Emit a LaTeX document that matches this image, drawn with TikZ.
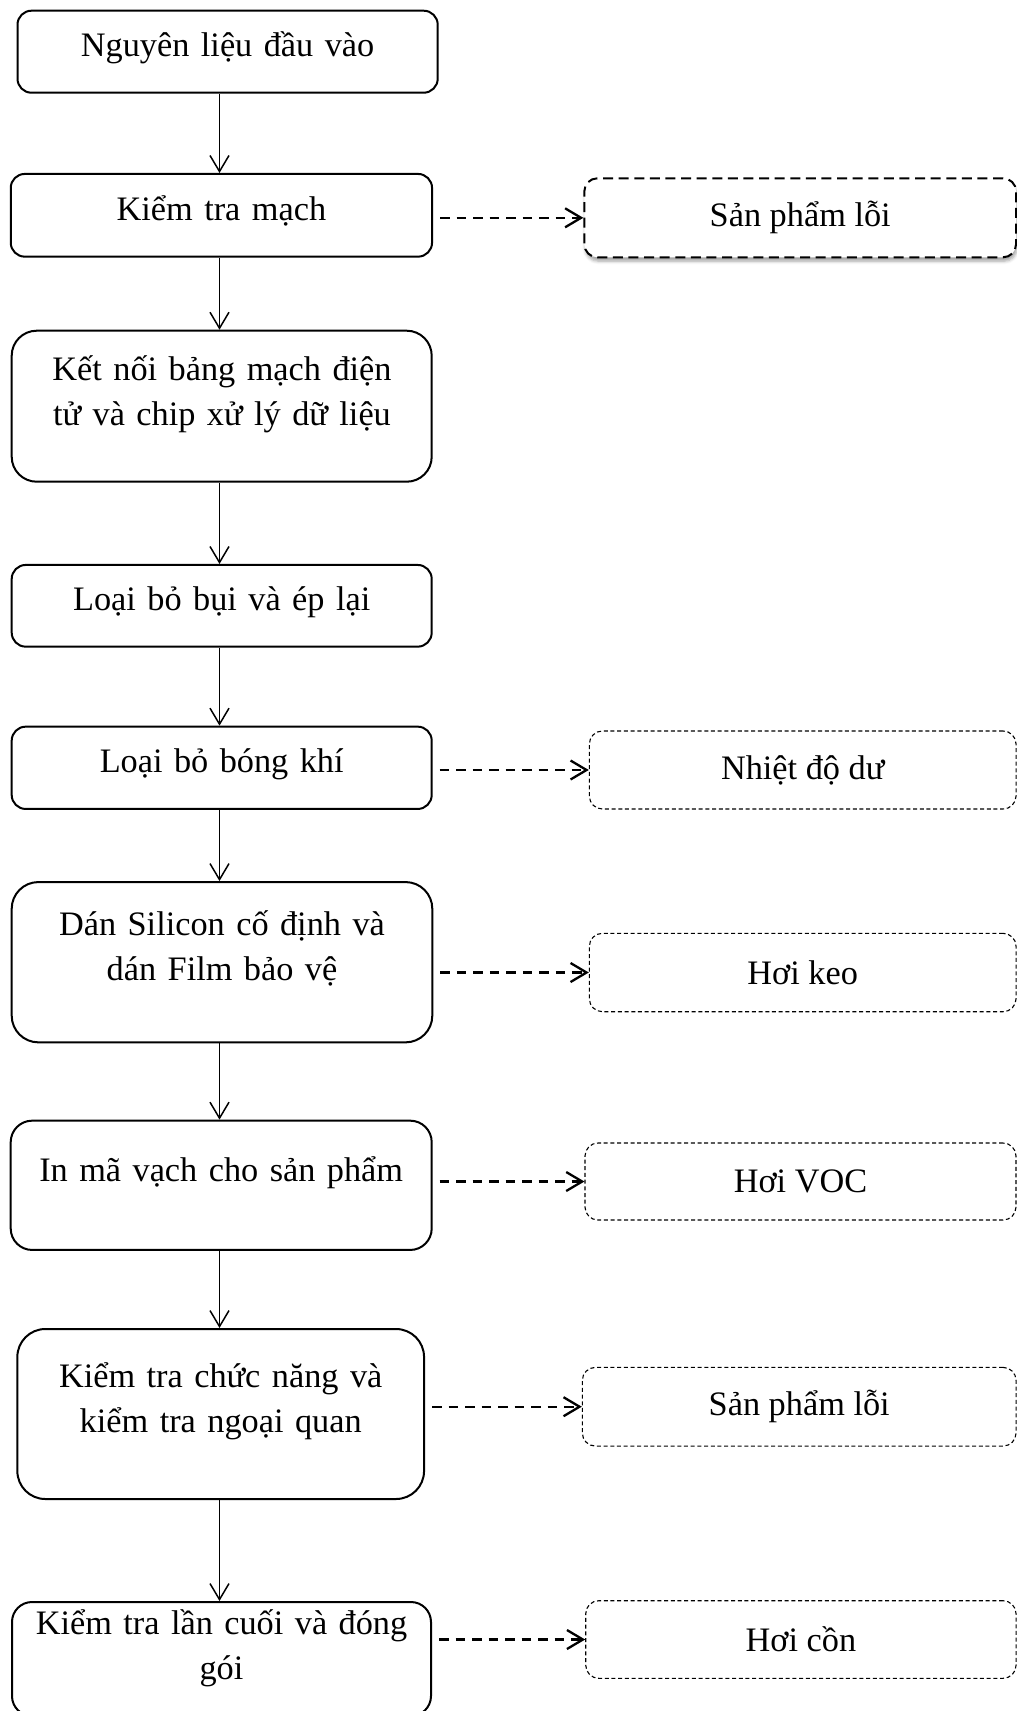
\documentclass[tikz,border=0pt]{standalone}
\usepackage{fontspec}
\setmainfont{Liberation Serif}
\usetikzlibrary{arrows.meta, shadows.blur}

\begin{document}
\begin{tikzpicture}[x=1pt, y=-1pt, font=\fontsize{34.3}{45.5}\selectfont,
    >={Straight Barb[length=16pt, width=19pt]},
    stage/.style={draw, line width=2pt, rounded corners=#1, inner sep=0pt, minimum width=420pt},
    stage/.default=14pt,
    txt/.style={text width=420pt, align=center, inner sep=0pt, anchor=base},
    waste/.style={draw, line width=1.1pt, dash pattern=on 4pt off 2.7pt, rounded corners=13pt,
      inner sep=0pt, minimum width=431pt, minimum height=78pt},
    shaded/.style={line width=2pt, dash pattern=on 10pt off 5.6pt, fill=white,
      blur shadow={shadow xshift=1pt, shadow yshift=-4pt, shadow blur radius=3pt, shadow opacity=35}},
    down/.style={->, line width=1.5pt},
    side/.style={->, line width=2.3pt, dash pattern=on 9.5pt off 7pt}]
  \useasboundingbox (0,0) rectangle (1017,1711);
  \clip (0,0) rectangle (1017,1711);
  \coordinate (spine) at (219.5,0);
  % process steps
  \node[stage, minimum width=420.2pt, minimum height=82pt] (nl) at (227.6,51.7) {};
  \node[txt] (nl-t) at (227.6,56.7) {Nguyên liệu đầu vào};
  \node[stage, minimum width=421.3pt, minimum height=82.7pt] (ktm) at (221.4,215.3) {};
  \node[txt] (ktm-t) at (221.4,220) {Kiểm tra mạch};
  \node[stage=25pt, minimum height=151pt] (kn) at (221.7,406.2) {};
  \node[txt] (kn-t) at (222,380) {Kết nối bảng mạch điện\\ tử và chip xử lý dữ liệu};
  \node[stage, minimum height=81.7pt] (lb) at (221.7,605.8) {};
  \node[txt] (lb-t) at (221.7,610.7) {Loại bỏ bụi và ép lại};
  \node[stage, minimum height=82.3pt] (bk) at (221.7,767.8) {};
  \node[txt] (bk-t) at (221.7,772) {Loại bỏ bóng khí};
  \node[stage=26.7pt, minimum width=420.6pt, minimum height=160.3pt] (ds) at (222,962.2) {};
  \node[txt] (ds-t) at (222,935) {Dán Silicon cố định và\\ dán Film bảo vệ};
  \node[stage=21.5pt, minimum width=421pt, minimum height=129.3pt] (ma) at (221.2,1185.3) {};
  \node[txt] (ma-t) at (221.2,1181) {In mã vạch cho sản phẩm};
  \node[stage=28pt, minimum width=406.7pt, minimum height=170pt] (kc) at (220.7,1414) {};
  \node[txt] (kc-t) at (220.7,1387.3) {Kiểm tra chức năng và\\ kiểm tra ngoại quan};
  \node[stage=20pt, minimum width=419pt, minimum height=114pt] (kl) at (221.5,1659) {};
  \node[txt] (kl-t) at (221.5,1634) {Kiểm tra lần cuối và đóng\\ gói};
  % waste outputs
  \node[waste, shaded, minimum width=431.7pt, minimum height=79pt] (sp1) at (800.2,217.8) {Sản phẩm lỗi};
  \node[waste, minimum width=426.7pt] (nd) at (802.7,770) {Nhiệt độ dư};
  \node[waste, minimum width=426.7pt, minimum height=78.4pt] (hk) at (802.7,972.5) {Hơi keo};
  \node[waste, minimum height=77pt] (voc) at (800.5,1181.5) {Hơi VOC};
  \node[waste, minimum width=433.7pt, minimum height=78.7pt] (sp2) at (799.2,1406.7) {Sản phẩm lỗi};
  \node[waste, minimum width=430.3pt, minimum height=77.6pt] (hc) at (800.9,1639.5) {Hơi cồn};
  % connectors
  \foreach \a/\b in {nl/ktm, ktm/kn, kn/lb, lb/bk, bk/ds, ds/ma, ma/kc, kc/kl}
    \draw[down] (\a.south -| spine) -- (\b.north -| spine);
  \foreach \a/\b in {ktm/sp1, bk/nd, ds/hk, ma/voc, kc/sp2, kl/hc}
    \draw[side] ([xshift=7pt]\a.east |- \b.west) -- (\b.west);
\end{tikzpicture}
\end{document}
